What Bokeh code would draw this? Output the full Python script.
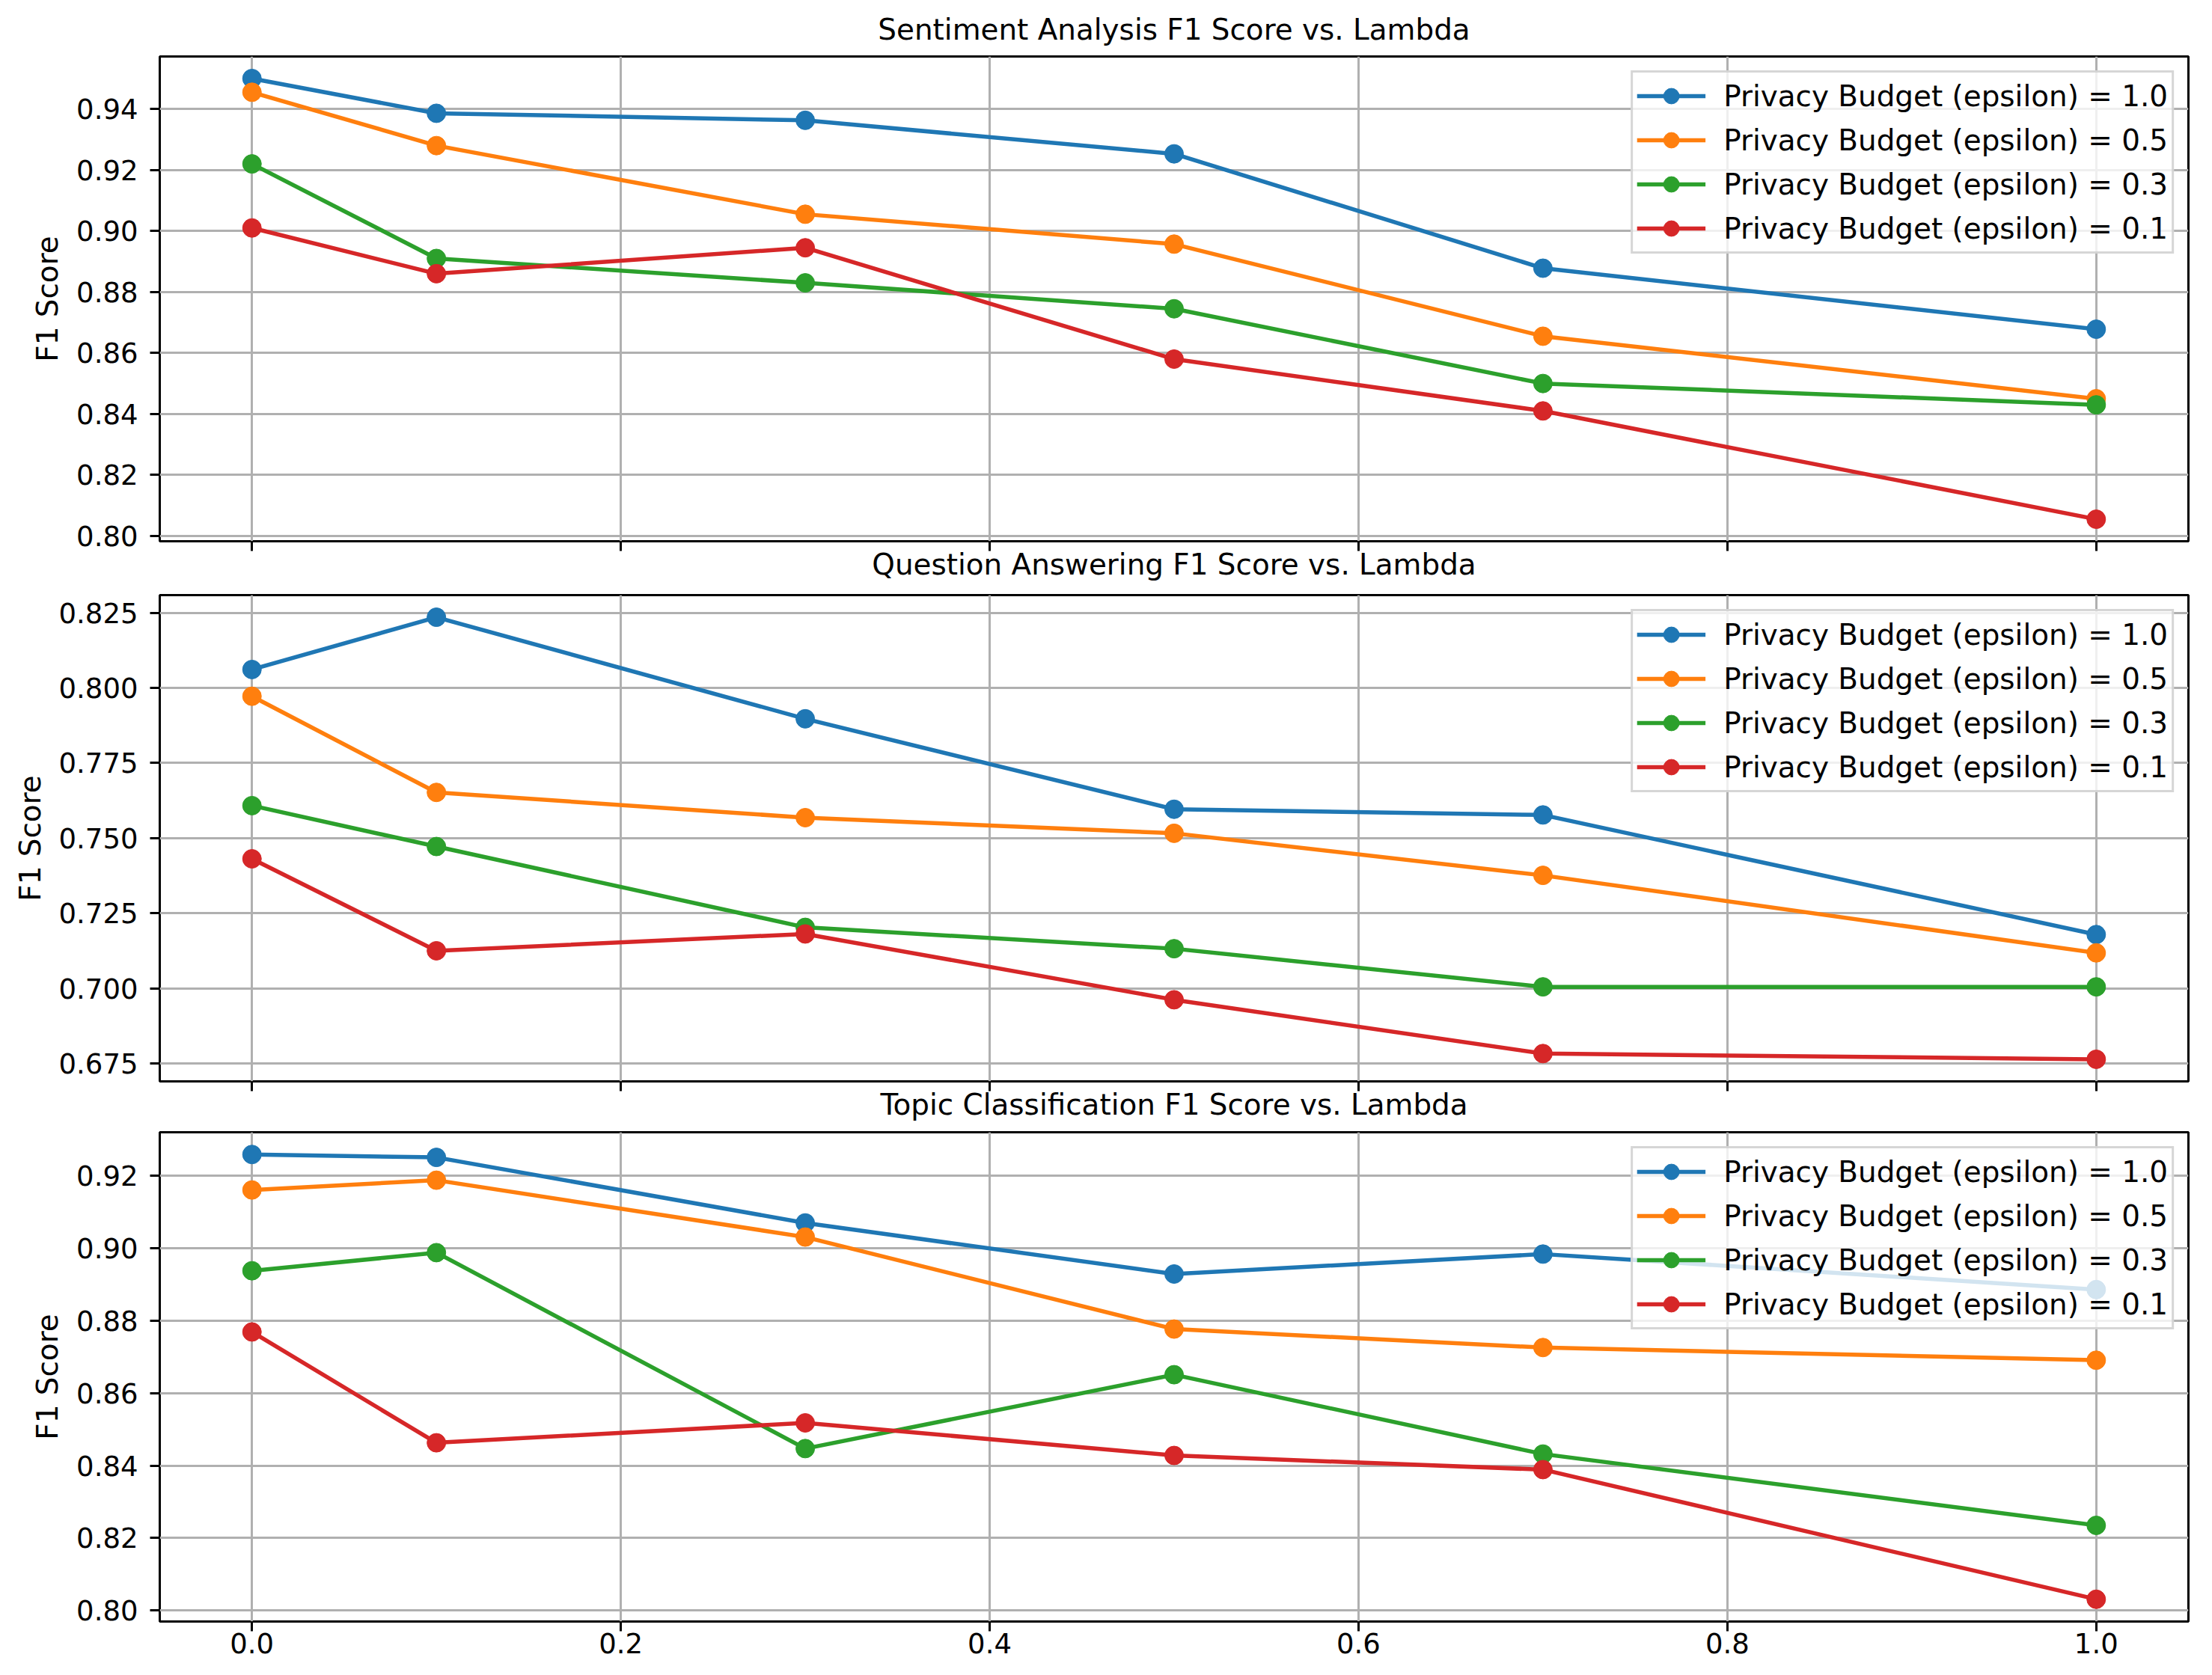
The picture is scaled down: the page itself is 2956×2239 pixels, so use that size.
from bokeh.plotting import figure
from bokeh.layouts import column
from bokeh.models import Range1d, FixedTicker, Legend, LegendItem, CustomLabelingPolicy
from bokeh.embed import file_html
from bokeh.resources import INLINE

lambdas = [0.0, 0.1, 0.3, 0.5, 0.7, 1.0]
epsilons = ["1.0", "0.5", "0.3", "0.1"]
colors = ["#1f77b4", "#ff7f0e", "#2ca02c", "#d62728"]

sentiment_eps10 = [0.950, 0.9386, 0.9363, 0.9253, 0.8878, 0.8678]
sentiment_eps05 = [0.9455, 0.928, 0.9055, 0.8957, 0.8655, 0.845]
sentiment_eps03 = [0.922, 0.891, 0.883, 0.8745, 0.850, 0.843]
sentiment_eps01 = [0.901, 0.886, 0.8945, 0.858, 0.841, 0.8055]

qa_eps10 = [0.8061, 0.8235, 0.7897, 0.7596, 0.7577, 0.7179]
qa_eps05 = [0.7972, 0.7652, 0.7568, 0.7516, 0.7376, 0.7118]
qa_eps03 = [0.7608, 0.7472, 0.7203, 0.7132, 0.7005, 0.7005]
qa_eps01 = [0.7431, 0.7125, 0.7181, 0.6962, 0.6783, 0.6764]

topic_eps10 = [0.9259, 0.9251, 0.907, 0.8929, 0.8984, 0.8886]
topic_eps05 = [0.9161, 0.9188, 0.9031, 0.8777, 0.8726, 0.8691]
topic_eps03 = [0.8938, 0.8988, 0.8447, 0.8651, 0.8432, 0.8235]
topic_eps01 = [0.8769, 0.8463, 0.8518, 0.8428, 0.8389, 0.8031]

titles = ["Sentiment Analysis F1 Score vs. Lambda",
          "Question Answering F1 Score vs. Lambda",
          "Topic Classification F1 Score vs. Lambda"]
series = [[sentiment_eps10, sentiment_eps05, sentiment_eps03, sentiment_eps01],
          [qa_eps10, qa_eps05, qa_eps03, qa_eps01],
          [topic_eps10, topic_eps05, topic_eps03, topic_eps01]]
yticks = [[0.80, 0.82, 0.84, 0.86, 0.88, 0.90, 0.92, 0.94],
          [0.675, 0.700, 0.725, 0.750, 0.775, 0.800, 0.825],
          [0.80, 0.82, 0.84, 0.86, 0.88, 0.90, 0.92]]
ydigits = [2, 3, 2]
xticks = [0.0, 0.2, 0.4, 0.6, 0.8, 1.0]

FONT = "DejaVu Sans"
TICK_FS = "37px"
TXT_FS = "38.9px"

# (min border top, frame height, min border bottom)
layout = [(74, 648, 0), (16, 650, 0), (12, 654, 72)]
FW = 2711
LEFT = 213
RIGHT = 12

figs = []
for i in range(3):
    T, FH, B = layout[i]
    allv = [v for s in series[i] for v in s]
    lo, hi = min(allv), max(allv)
    pad = (hi - lo) * 0.05
    p = figure(frame_width=FW, frame_height=FH, output_backend="svg", toolbar_location=None,
               x_range=Range1d(-0.05, 1.05), y_range=Range1d(lo - pad, hi + pad),
               min_border_left=LEFT, min_border_right=RIGHT,
               min_border_top=T, min_border_bottom=B)
    if i == 0:
        p.title.text = titles[0]
        p.title.align = "center"
        p.title.text_font = FONT
        p.title.text_font_size = TXT_FS
        p.title.text_font_style = "normal"
        p.title.text_color = "black"
        p.title.standoff = 28

    p.outline_line_color = "black"
    p.outline_line_width = 3
    p.background_fill_color = "white"
    p.border_fill_color = "white"

    for ax in (p.xaxis[0], p.yaxis[0]):
        ax.axis_line_color = None
        ax.major_tick_out = 13
        ax.major_tick_in = 0
        ax.major_tick_line_width = 3
        ax.major_tick_line_color = "black"
        ax.minor_tick_line_color = None
        ax.major_label_text_font = FONT
        ax.major_label_text_font_size = TICK_FS
        ax.major_label_text_color = "black"

    p.xaxis.ticker = FixedTicker(ticks=xticks)
    if i < 2:
        # shared x: tick marks only; the next panel's title sits right under them
        p.xaxis.major_label_overrides = {t: "" for t in xticks}
        p.xaxis.major_label_text_font_size = "1px"
        p.xaxis.major_label_text_color = None
        p.xaxis.major_label_standoff = 0
        p.xaxis.major_label_policy = CustomLabelingPolicy(code="return new Set()")
        p.xaxis.axis_label = titles[i + 1]
        p.xaxis.axis_label_text_font = FONT
        p.xaxis.axis_label_text_font_size = TXT_FS
        p.xaxis.axis_label_text_font_style = "normal"
        p.xaxis.axis_label_text_color = "black"
        p.xaxis.axis_label_standoff = -5
    else:
        p.xaxis.major_label_overrides = {t: f"{t:.1f}" for t in xticks}
        p.xaxis.major_label_standoff = 2

    p.yaxis.ticker = FixedTicker(ticks=yticks[i])
    p.yaxis.major_label_overrides = {t: f"{t:.{ydigits[i]}f}" for t in yticks[i]}
    p.yaxis.major_label_standoff = 16
    p.yaxis.axis_label = "F1 Score"
    p.yaxis.axis_label_text_font = FONT
    p.yaxis.axis_label_text_font_size = TXT_FS
    p.yaxis.axis_label_text_font_style = "normal"
    p.yaxis.axis_label_text_color = "black"
    p.yaxis.axis_label_standoff = 13

    p.xgrid.ticker = FixedTicker(ticks=xticks)
    p.ygrid.ticker = FixedTicker(ticks=yticks[i])
    for g in (p.xgrid[0], p.ygrid[0]):
        g.grid_line_color = "#b0b0b0"
        g.grid_line_width = 3

    items = []
    for s, eps, c in zip(series[i], epsilons, colors):
        r1 = p.line(lambdas, s, line_color=c, line_width=5.5)
        r2 = p.scatter(lambdas, s, marker="circle", size=25, fill_color=c, line_color=c)
        items.append(LegendItem(label=f"Privacy Budget (epsilon) = {eps}", renderers=[r1, r2]))

    leg = Legend(items=items, location="top_right")
    leg.margin = 19
    leg.padding = 5
    leg.spacing = 7
    leg.glyph_width = 92
    leg.glyph_height = 52
    leg.label_height = 44
    leg.label_standoff = 24
    leg.label_text_font = FONT
    leg.label_text_font_size = TXT_FS
    leg.label_text_color = "black"
    leg.border_line_color = "#cccccc"
    leg.border_line_width = 3
    leg.border_line_alpha = 0.8
    leg.background_fill_color = "white"
    leg.background_fill_alpha = 0.8
    p.add_layout(leg, "center")

    figs.append(p)

layout_obj = column(*figs, spacing=0)
open("out.html", "w").write(file_html(layout_obj, INLINE))
